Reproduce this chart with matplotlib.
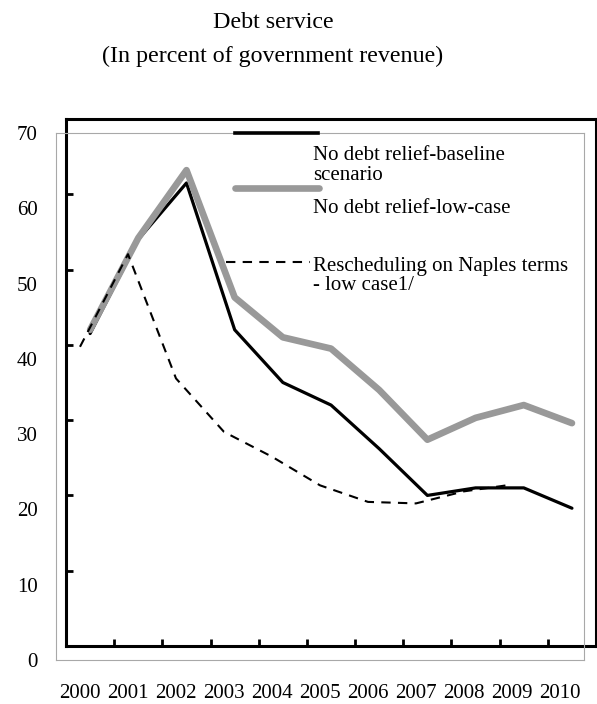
import numpy as np
import matplotlib
matplotlib.use('Agg')
import matplotlib.pyplot as plt
from matplotlib.lines import Line2D

plt.rcParams['font.family'] = ['Liberation Serif', 'DejaVu Serif']

years = ['2000', '2001', '2002', '2003', '2004', '2005', '2006', '2007', '2008', '2009', '2010']
baseline = [41.5, 54.0, 61.5, 42.0, 35.0, 32.0, 26.2, 20.0, 21.0, 21.0, 18.3]
low_case = [42.0, 54.2, 63.2, 46.3, 41.0, 39.5, 34.0, 27.4, 30.3, 32.0, 29.6]
naples = [41.6, 53.9, 37.4, 30.3, 27.0, 23.2, 21.0, 20.8, 22.4, 23.3, np.nan]
yticks = [0, 10, 20, 30, 40, 50, 60, 70]

x = np.arange(len(years))

fig = plt.figure(figsize=(5.97, 7.04), dpi=100)
fig.patch.set_facecolor('white')

# thin grey frame carrying the labels, the dashed series and the key
back = fig.add_axes([0.0938, 0.0625, 0.8844, 0.7486])
# heavy black frame with the two solid series
front = fig.add_axes([0.1106, 0.0824, 0.8878, 0.7486])

for ax in (back, front):
    ax.set_xlim(-0.5, len(years) - 0.5)
    ax.set_ylim(0, 70)
    ax.patch.set_visible(False)

back.set_zorder(2)
front.set_zorder(1)

for s in back.spines.values():
    s.set_color('#a8a8a8')
    s.set_linewidth(0.8)
back.set_xticks(x)
back.set_xticklabels(years)
back.set_yticks(yticks)
back.tick_params(axis='both', length=0, labelsize=15)
back.tick_params(axis='y', pad=13)
back.tick_params(axis='x', pad=17)

for s in front.spines.values():
    s.set_color('black')
    s.set_linewidth(2.2)
front.set_xticks(x[:-1] + 0.5)
front.set_yticks(yticks[1:-1])
front.tick_params(axis='both', direction='in', length=5, width=2, labelbottom=False, labelleft=False)

front.plot(x, baseline, color='black', linewidth=2.3, solid_capstyle='round', zorder=3)
front.plot(x, low_case, color='#999999', linewidth=4.8, solid_capstyle='round', zorder=4)
back.plot(x, naples, color='black', linewidth=1.5, dashes=(4.5, 3.5), zorder=5)

# key
tr = back.transAxes
back.add_line(Line2D([0.339, 0.496], [1.0, 1.0], transform=tr, color='black', linewidth=2.6,
                     clip_on=False, zorder=6))
back.add_line(Line2D([0.339, 0.498], [0.8956, 0.8956], transform=tr, color='#999999', linewidth=4.8,
                     solid_capstyle='round', clip_on=False))
back.add_line(Line2D([0.322, 0.481], [0.755, 0.755], transform=tr, color='black', linewidth=1.5,
                     dashes=(4.5, 3.5), clip_on=False))
back.text(0.487, 0.938, 'No debt relief-baseline\nscenario', transform=tr, fontsize=15, va='center', ha='left',
          linespacing=1.1)
back.text(0.487, 0.856, 'No debt relief-low-case', transform=tr, fontsize=15, va='center', ha='left')
back.text(0.487, 0.728, 'Rescheduling on Naples terms\n- low case1/', transform=tr, fontsize=15,
          va='center', ha='left', linespacing=1.0)

fig.text(0.457, 1 - 23 / 704, 'Debt service', ha='center', va='center', fontsize=17.3)
fig.text(0.457, 1 - 56 / 704, '(In percent of government revenue)', ha='center', va='center', fontsize=17.3)

fig.savefig('out.png', dpi=100)
